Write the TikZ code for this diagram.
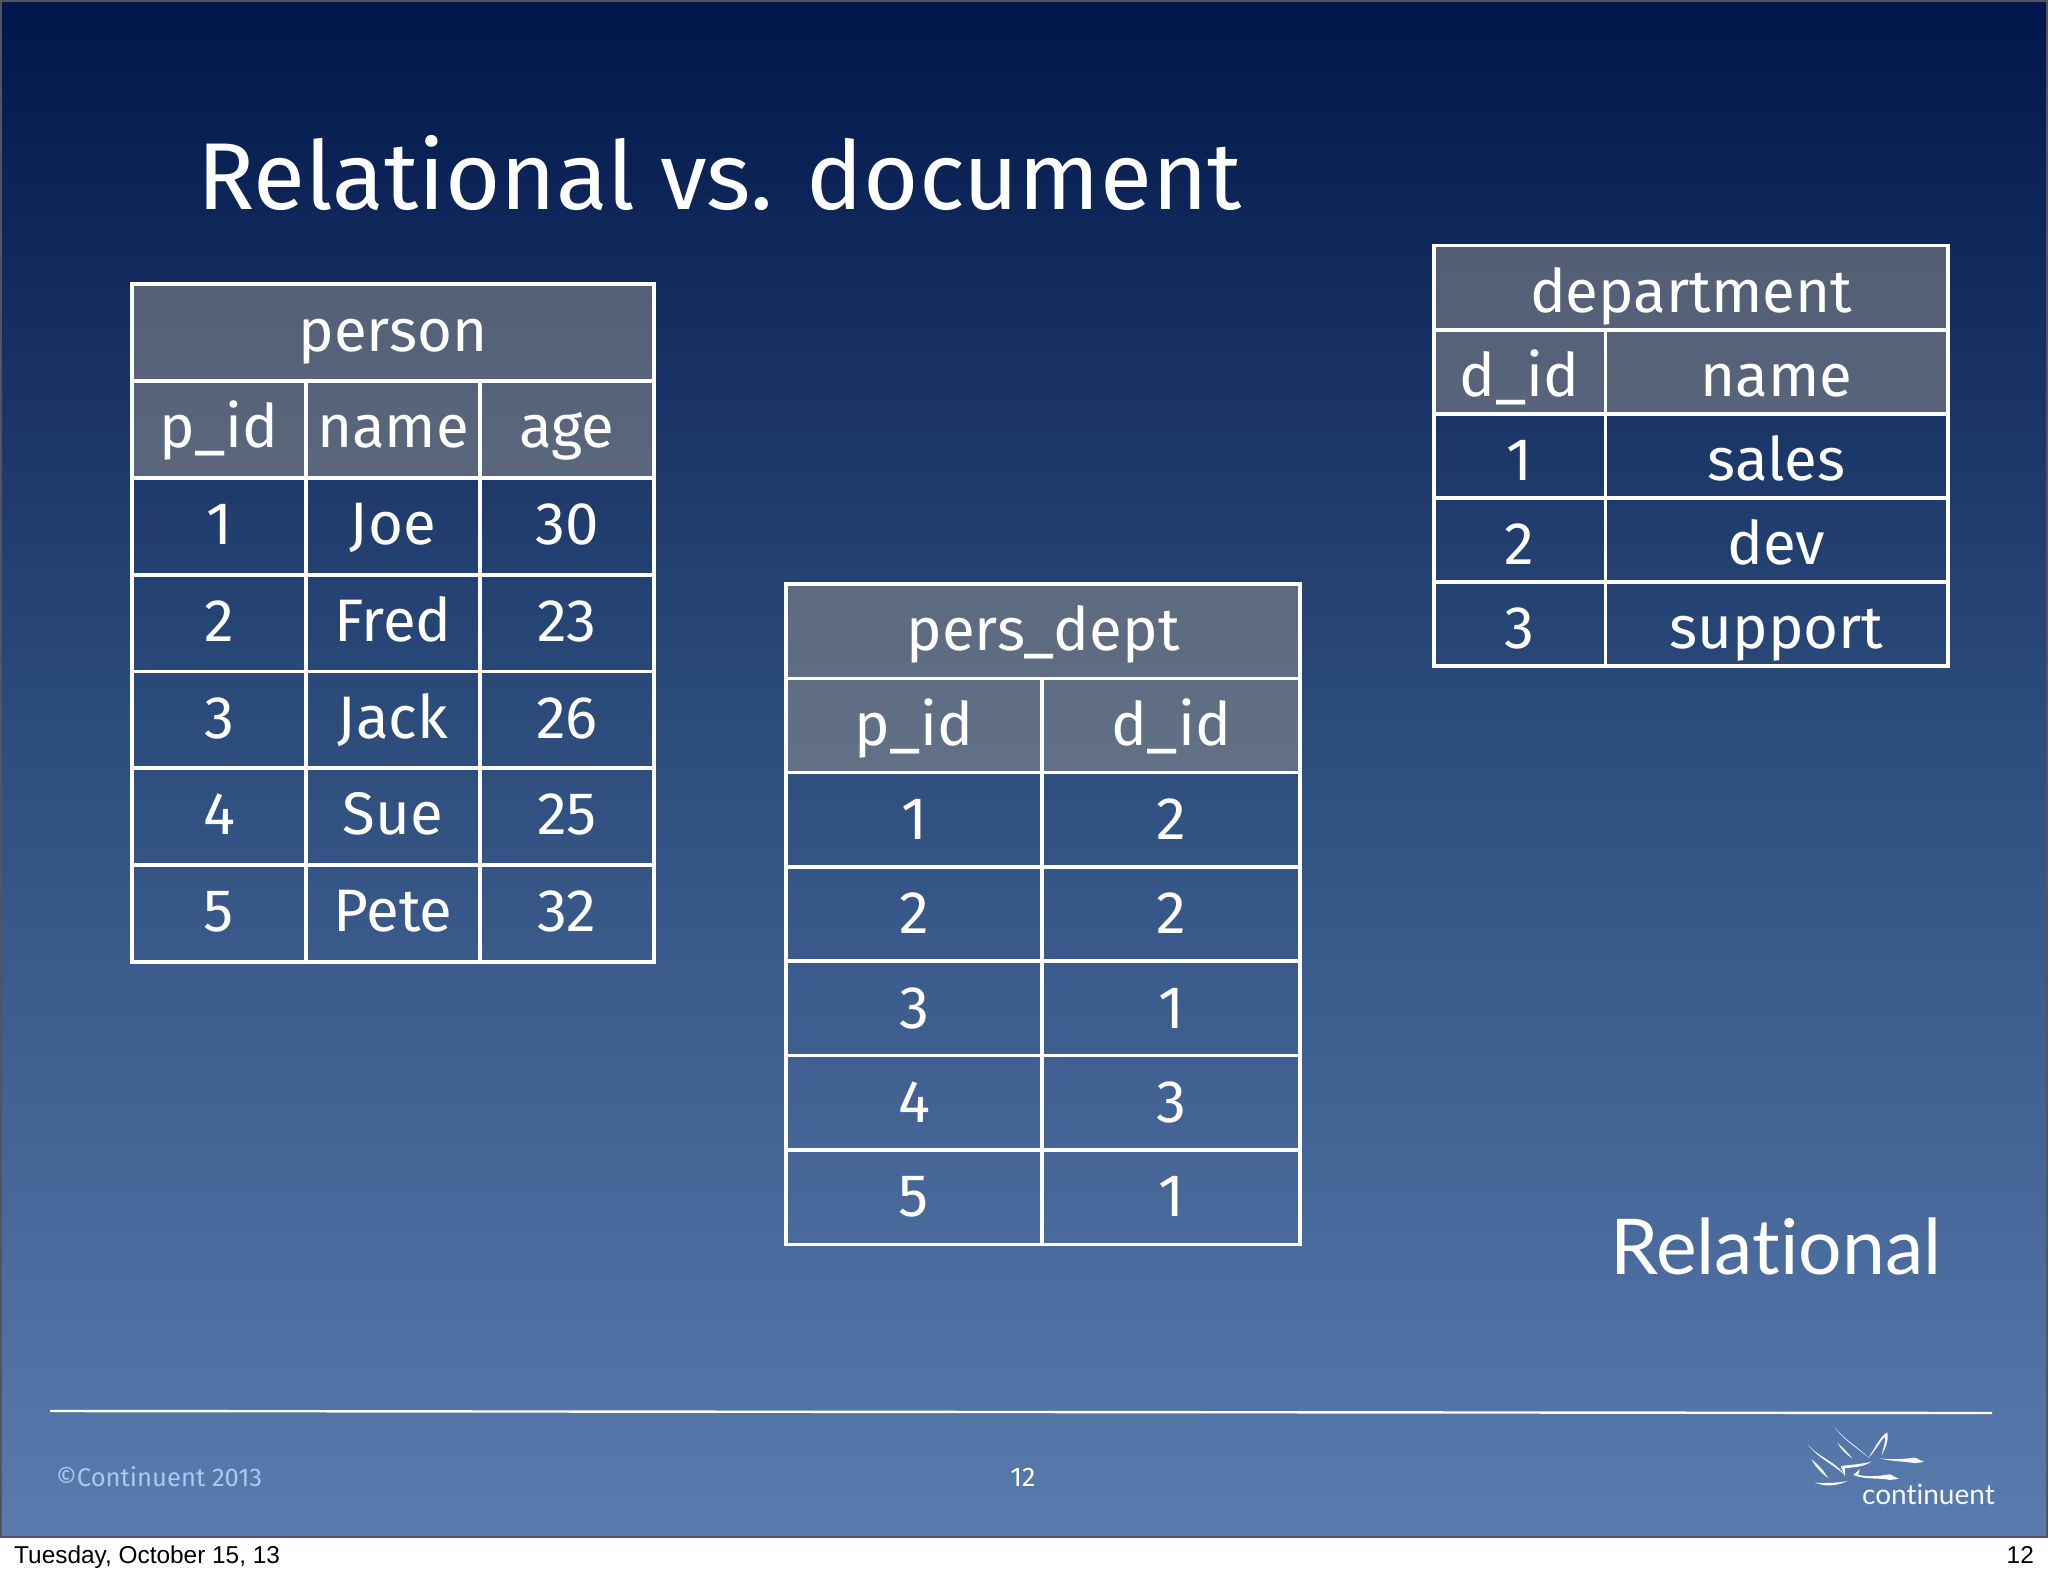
\documentclass[tikz,border=0pt]{standalone}
\usepackage{fontspec}
\setmainfont{Fira Sans}
\newfontfamily\gillfont[Ligatures=NoCommon]{Lato}
\newfontfamily\helvfont{Liberation Sans}
\definecolor{slidetop}{HTML}{01164A}
\definecolor{slidemid}{HTML}{2E4F7E}
\definecolor{slidebot}{HTML}{5A7BAE}
\definecolor{slideedge}{HTML}{50555F}
\definecolor{footblue}{HTML}{A9C8F2}
\definecolor{headgray}{HTML}{8C8C8C}
\tikzset{
  x=1pt,y=-1pt,
  gridline/.style={draw=white,line width=3.8pt},
  headcell/.style={fill=headgray,fill opacity=.55},
  celltext/.style={text=white,font=\fontsize{60}{60}\selectfont,anchor=base,inner sep=0pt},
  footline/.style={draw=white,line width=2.4pt},
  logostroke/.style={fill=white!88!footblue},
}
% \tcell{name}{x0}{y0}{x1}{y1}{baseline}{text}
\newcommand{\tcell}[7]{\node[celltext] (#1) at ({(#2+#4)/2},#6) {#7};}
\newcommand{\hfillrect}[4]{\fill[headcell] (#1,#2) rectangle (#3,#4);}
\begin{document}
\begin{tikzpicture}
\useasboundingbox (0,0) rectangle (2048,1576);
\fill[white] (0,0) rectangle (2048,1576);
\shade[top color=slidetop,bottom color=slidemid] (0,0) rectangle (2048,760);
\shade[top color=slidemid,bottom color=slidebot] (0,760) rectangle (2048,1537);
\draw[slideedge,line width=1.5pt] (1,1) rectangle (2047,1537);
%
\node[text=white,font=\fontsize{95}{95}\selectfont,anchor=base west,inner sep=0pt] (title) at (197,209) {Relational vs. document};
%
% person
\hfillrect{132}{284}{654}{478}
\draw[gridline] (132,284) rectangle (654,962);
\draw[gridline] (132,381) -- (654,381) (132,478) -- (654,478) (132,575) -- (654,575) (132,671.5) -- (654,671.5) (132,768) -- (654,768) (132,865) -- (654,865);
\draw[gridline] (306,381) -- (306,962) (480,381) -- (480,962);
\tcell{pt}{132}{284}{654}{381}{351}{person}
\tcell{p1}{132}{381}{306}{478}{447.5}{p\_id}
\tcell{p2}{306}{381}{480}{478}{447.5}{name}
\tcell{p3}{480}{381}{654}{478}{447.5}{age}
\tcell{pa1}{132}{478}{306}{575}{544}{1}
\tcell{pa2}{306}{478}{480}{575}{544}{Joe}
\tcell{pa3}{480}{478}{654}{575}{544}{30}
\tcell{pb1}{132}{575}{306}{671}{641}{2}
\tcell{pb2}{306}{575}{480}{671}{641}{Fred}
\tcell{pb3}{480}{575}{654}{671}{641}{23}
\tcell{pc1}{132}{671}{306}{768}{738}{3}
\tcell{pc2}{306}{671}{480}{768}{738}{Jack}
\tcell{pc3}{480}{671}{654}{768}{738}{26}
\tcell{pd1}{132}{768}{306}{864}{834}{4}
\tcell{pd2}{306}{768}{480}{864}{834}{Sue}
\tcell{pd3}{480}{768}{654}{864}{834}{25}
\tcell{pe1}{132}{864}{306}{961}{931}{5}
\tcell{pe2}{306}{864}{480}{961}{931}{Pete}
\tcell{pe3}{480}{864}{654}{961}{931}{32}
%
% pers_dept
\hfillrect{786}{584}{1300}{772.5}
\draw[gridline] (786,584) rectangle (1300,1244.5);
\draw[gridline] (786,678.5) -- (1300,678.5) (786,772.5) -- (1300,772.5) (786,867) -- (1300,867) (786,961) -- (1300,961) (786,1055.5) -- (1300,1055.5) (786,1150) -- (1300,1150);
\draw[gridline] (1042,678.5) -- (1042,1244.5);
\tcell{dt}{786}{584}{1300}{678}{650.5}{pers\_dept}
\tcell{d1}{786}{678}{1042}{773}{745}{p\_id}
\tcell{d2}{1042}{678}{1300}{773}{745}{d\_id}
\tcell{da1}{786}{773}{1042}{867}{839}{1}
\tcell{da2}{1042}{773}{1300}{867}{839}{2}
\tcell{db1}{786}{867}{1042}{961}{933}{2}
\tcell{db2}{1042}{867}{1300}{961}{933}{2}
\tcell{dc1}{786}{961}{1042}{1055}{1028}{3}
\tcell{dc2}{1042}{961}{1300}{1055}{1028}{1}
\tcell{dd1}{786}{1055}{1042}{1149}{1122}{4}
\tcell{dd2}{1042}{1055}{1300}{1149}{1122}{3}
\tcell{de1}{786}{1149}{1042}{1244}{1216.5}{5}
\tcell{de2}{1042}{1149}{1300}{1244}{1216.5}{1}
%
% department
\hfillrect{1434}{245.5}{1948}{414}
\draw[gridline] (1434,245.5) rectangle (1948,666);
\draw[gridline] (1434,330) -- (1948,330) (1434,414) -- (1948,414) (1434,498) -- (1948,498) (1434,582) -- (1948,582);
\draw[gridline] (1605.5,330) -- (1605.5,666);
\tcell{ot}{1434}{245}{1948}{330}{312.5}{department}
\tcell{o1}{1434}{330}{1605}{414}{396.5}{d\_id}
\tcell{o2}{1605}{330}{1948}{414}{396.5}{name}
\tcell{oa1}{1434}{414}{1605}{498}{480}{1}
\tcell{oa2}{1605}{414}{1948}{498}{480}{sales}
\tcell{ob1}{1434}{498}{1605}{582}{564}{2}
\tcell{ob2}{1605}{498}{1948}{582}{564}{dev}
\tcell{oc1}{1434}{582}{1605}{666}{648}{3}
\tcell{oc2}{1605}{582}{1948}{666}{648}{support}
%
\node[text=white,font=\gillfont\fontsize{77}{77}\selectfont,anchor=base east,inner sep=0pt] (rel) at (1942,1274) {Relational};
%
\coordinate (ruleL) at (50,1411);
\coordinate (ruleR) at (1992,1413);
\draw[footline] (ruleL) -- (ruleR);
\node[text=footblue,font=\fontsize{25.6}{26}\selectfont,anchor=base west,inner sep=0pt] (copy) at (56,1486) {©Continuent 2013};
\node[text=white,font=\fontsize{27}{27}\selectfont,anchor=base,inner sep=0pt] (num) at (1023,1486) {12};
\node[text=black,font=\helvfont\fontsize{24.4}{25}\selectfont,anchor=base west,inner sep=0pt] (date) at (14,1563) {Tuesday, October 15, 13};
\node[text=black,font=\helvfont\fontsize{24.4}{25}\selectfont,anchor=base east,inner sep=0pt] (page) at (2034,1563) {12};
%
% logo (coordinates of the 3x crop)
\begin{scope}[shift={(1750,1380)},x=0.333pt,y=-0.333pt]
\fill[logostroke] (255,143) .. controls (290,185) and (330,205) .. (358,235) .. controls (325,205) and (285,185) .. (255,143);
\fill[logostroke] (262,187) .. controls (280,205) and (295,220) .. (308,236) .. controls (290,225) and (272,207) .. (262,187);
\fill[logostroke] (175,195) .. controls (210,235) and (250,240) .. (285,285) .. controls (245,250) and (205,235) .. (175,195);
\fill[logostroke] (185,238) .. controls (205,255) and (220,270) .. (235,295) .. controls (215,280) and (195,260) .. (185,238);
\fill[logostroke] (195,308) .. controls (225,310) and (260,310) .. (293,303) .. controls (260,320) and (220,320) .. (195,308);
\fill[logostroke] (355,235) .. controls (375,205) and (390,170) .. (412,157) .. controls (418,180) and (405,210) .. (395,225) .. controls (402,200) and (408,180) .. (405,170) .. controls (390,185) and (375,215) .. (355,235);
\fill[logostroke] (272,258) .. controls (300,255) and (340,252) .. (365,245) .. controls (340,262) and (310,262) .. (285,265) -- (285,290) -- cycle;
\fill[logostroke] (390,235) .. controls (420,240) and (460,238) .. (495,233) -- (523,246) -- (495,250) .. controls (460,243) and (420,245) .. (390,235);
\fill[logostroke] (310,285) -- (330,268) -- (325,285) .. controls (360,292) and (390,288) .. (420,283) -- (447,297) -- (420,300) .. controls (385,293) and (345,300) .. (310,285);
\node[text=white!88!footblue,font=\gillfont\fontsize{28}{28}\selectfont,anchor=base west,inner sep=0pt] (logotext) at (336,374) {continuent};
\end{scope}
\end{tikzpicture}
\end{document}
